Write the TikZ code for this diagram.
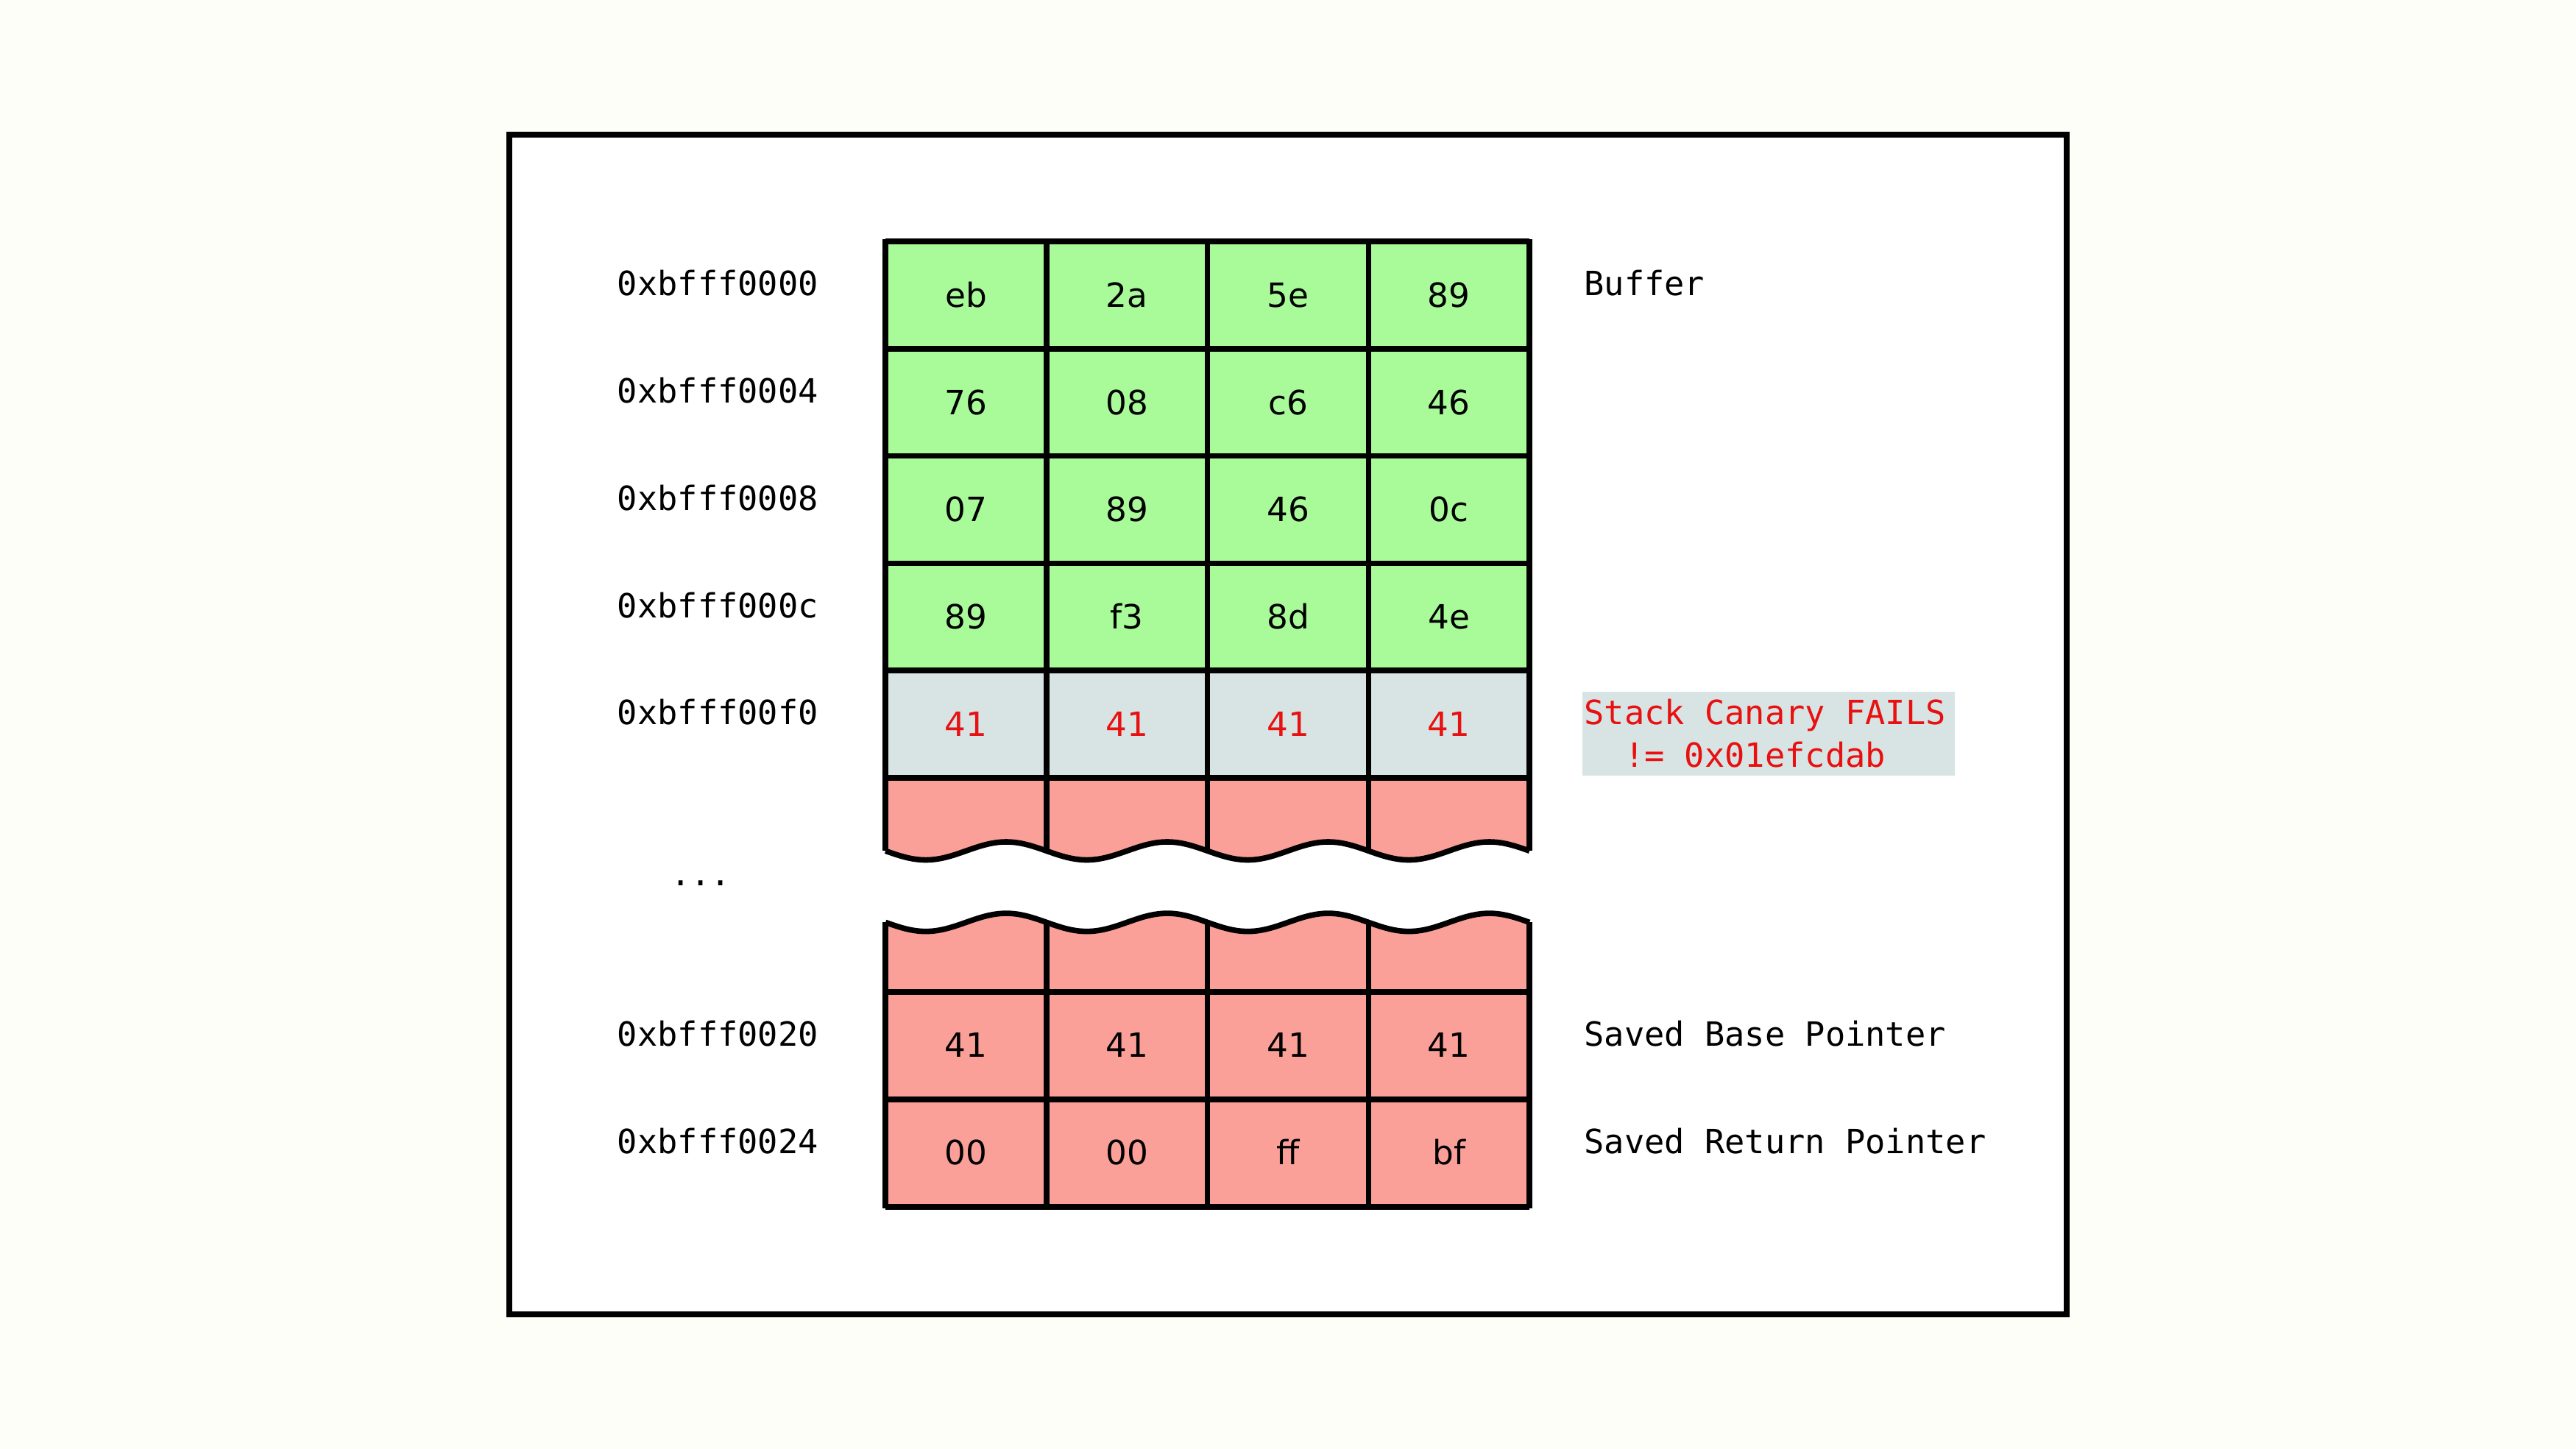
\documentclass[tikz,border=0pt]{standalone}
\usepackage{fontspec}
\setmainfont{DejaVu Sans}
\setmonofont{DejaVu Sans Mono}

\definecolor{pagebg}{RGB}{254,254,248}
\definecolor{bufgreen}{RGB}{168,251,152}
\definecolor{ovfred}{RGB}{250,160,152}
\definecolor{cangrey}{RGB}{216,228,228}
\definecolor{failred}{RGB}{232,16,16}

\def\unit{0.02232}
\def\wavetop{518}
\def\wavebot{561.5}

\begin{document}
\begin{tikzpicture}[x=\unit cm, y=-\unit cm,
    every node/.style={inner sep=0pt, font=\fontsize{12.9pt}{16.5pt}\selectfont},
    cell/.style={anchor=base},
    addr/.style={anchor=base west, font=\fontsize{12.9pt}{16.5pt}\selectfont\ttfamily},
    grid line/.style={line width=2.15pt, line join=round}]
      \useasboundingbox (0,0) rectangle (1568,882);
      \fill[pagebg] (0,0) rectangle (1568,882);
      \filldraw[fill=white, line width=2.15pt] (310,82) rectangle (1258,800);

      % memory cells
      \fill[bufgreen] (539,147) rectangle (931,408.2);
      \fill[cangrey] (539,408.2) rectangle (931,473.5);
      \fill[ovfred] plot[domain=539:931, samples=161, smooth] (\x, {\wavetop+5.5*sin(3.67347*(\x-539))}) -- (931,473.5) -- (539,473.5) -- cycle;
      \fill[ovfred] plot[domain=539:931, samples=161, smooth] (\x, {\wavebot+5.5*sin(3.67347*(\x-539))}) -- (931,734.6) -- (539,734.6) -- cycle;

      \draw[grid line] (539,147) -- (931,147);
      \draw[grid line] (539,212.3) -- (931,212.3);
      \draw[grid line] (539,277.6) -- (931,277.6);
      \draw[grid line] (539,342.9) -- (931,342.9);
      \draw[grid line] (539,408.2) -- (931,408.2);
      \draw[grid line] (539,473.5) -- (931,473.5);
      \draw[grid line] (539,604) -- (931,604);
      \draw[grid line] (539,669.3) -- (931,669.3);
      \draw[grid line] (539,734.6) -- (931,734.6);
      \draw[grid line] (539,145.8) -- (539,\wavetop);
      \draw[grid line] (637,147) -- (637,\wavetop);
      \draw[grid line] (735,147) -- (735,\wavetop);
      \draw[grid line] (833,147) -- (833,\wavetop);
      \draw[grid line] (931,145.8) -- (931,\wavetop);
      \draw[grid line] (539,\wavebot) -- (539,735.8);
      \draw[grid line] (637,\wavebot) -- (637,734.6);
      \draw[grid line] (735,\wavebot) -- (735,734.6);
      \draw[grid line] (833,\wavebot) -- (833,734.6);
      \draw[grid line] (931,\wavebot) -- (931,735.8);
      \draw[grid line] plot[domain=539:931, samples=161, smooth] (\x, {\wavetop+5.5*sin(3.67347*(\x-539))});
      \draw[grid line] plot[domain=539:931, samples=161, smooth] (\x, {\wavebot+5.5*sin(3.67347*(\x-539))});

      % byte values
      \node[cell] (r1c1) at (588,187) {eb};
      \node[cell] (r1c2) at (686,187) {2a};
      \node[cell] (r1c3) at (784,187) {5e};
      \node[cell] (r1c4) at (882,187) {89};
      \node[cell] (r2c1) at (588,252.3) {76};
      \node[cell] (r2c2) at (686,252.3) {08};
      \node[cell] (r2c3) at (784,252.3) {c6};
      \node[cell] (r2c4) at (882,252.3) {46};
      \node[cell] (r3c1) at (588,317.6) {07};
      \node[cell] (r3c2) at (686,317.6) {89};
      \node[cell] (r3c3) at (784,317.6) {46};
      \node[cell] (r3c4) at (882,317.6) {0c};
      \node[cell] (r4c1) at (588,382.9) {89};
      \node[cell] (r4c2) at (686,382.9) {f3};
      \node[cell] (r4c3) at (784,382.9) {8d};
      \node[cell] (r4c4) at (882,382.9) {4e};
      \node[cell, failred] (r5c1) at (588,448.2) {41};
      \node[cell, failred] (r5c2) at (686,448.2) {41};
      \node[cell, failred] (r5c3) at (784,448.2) {41};
      \node[cell, failred] (r5c4) at (882,448.2) {41};
      \node[cell] (r6c1) at (588,643.7) {41};
      \node[cell] (r6c2) at (686,643.7) {41};
      \node[cell] (r6c3) at (784,643.7) {41};
      \node[cell] (r6c4) at (882,643.7) {41};
      \node[cell] (r7c1) at (588,709) {00};
      \node[cell] (r7c2) at (686,709) {00};
      \node[cell] (r7c3) at (784,709) {ff};
      \node[cell] (r7c4) at (882,709) {bf};

      % addresses
      \node[addr] (a0) at (375.5,180) {0xbfff0000};
      \node[addr] (a1) at (375.5,245.3) {0xbfff0004};
      \node[addr] (a2) at (375.5,310.6) {0xbfff0008};
      \node[addr] (a3) at (375.5,375.9) {0xbfff000c};
      \node[addr] (a4) at (375.5,441.2) {0xbfff00f0};
      \node[addr, anchor=base] (adots) at (426.5,539) {...};
      \node[addr] (a5) at (375.5,637) {0xbfff0020};
      \node[addr] (a6) at (375.5,702.3) {0xbfff0024};

      % right hand labels
      \fill[cangrey] (963,421) rectangle (1190,472);
      \node[addr] (lbuf) at (964,180) {Buffer};
      \node[addr, failred] (lcan) at (964,441.2) {Stack Canary FAILS};
      \node[addr, failred] (lcanval) at (964,467.2) {\phantom{xx}!= 0x01efcdab};
      \node[addr] (lsbp) at (964,637) {Saved Base Pointer};
      \node[addr] (lsrp) at (964,702.3) {Saved Return Pointer};
    \end{tikzpicture}
\end{document}
